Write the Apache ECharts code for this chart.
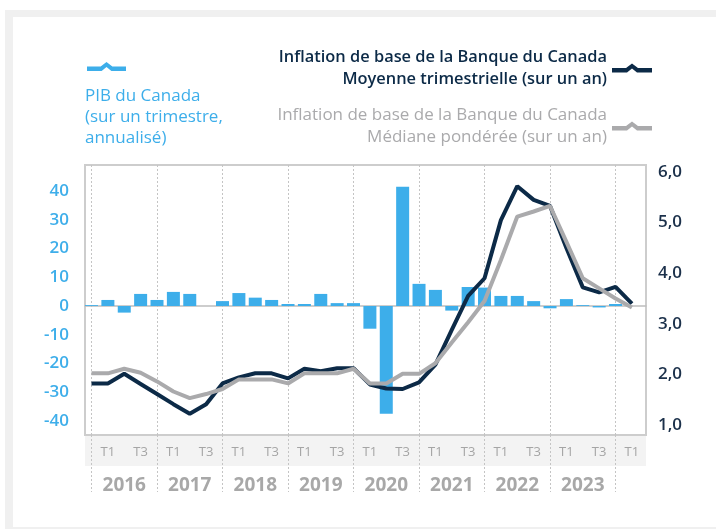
<!DOCTYPE html>
<html>
<head>
<meta charset="utf-8">
<script src="https://cdn.jsdelivr.net/npm/echarts@6/dist/echarts.min.js"></script>
<style>
  html, body { margin: 0; padding: 0; background: #fff; }
  /* cadre gris autour du graphique */
  #frame { position: absolute; left: 5px; top: 10px; width: 711px; height: 519px; background: #f0f0f0; }
  #inner { position: absolute; left: 13px; top: 17px; width: 703px; height: 510px; background: #fff; }
  #chart { position: absolute; left: 0; top: 0; width: 716px; height: 529px; }
</style>
</head>
<body>
<div id="frame"></div>
<div id="inner"></div>
<div id="chart"></div>
<script>
// trimestres : 2015T4 -> 2024T1
const quarters = [
  '2015T4',
  '2016T1', '2016T2', '2016T3', '2016T4',
  '2017T1', '2017T2', '2017T3', '2017T4',
  '2018T1', '2018T2', '2018T3', '2018T4',
  '2019T1', '2019T2', '2019T3', '2019T4',
  '2020T1', '2020T2', '2020T3', '2020T4',
  '2021T1', '2021T2', '2021T3', '2021T4',
  '2022T1', '2022T2', '2022T3', '2022T4',
  '2023T1', '2023T2', '2023T3', '2023T4',
  '2024T1'
]

// PIB du Canada (sur un trimestre, annualisé), axe de gauche
const gdp = [
  0.3,
  2.1, -2.3, 4.2, 2.1,
  4.9, 4.2, 0, 1.7,
  4.5, 2.9, 2.1, 0.7,
  0.7, 4.2, 1.0, 1.0,
  -7.9, -37.5, 41.5, 7.7,
  5.6, -1.6, 6.6, 6.4,
  3.5, 3.5, 1.7, -0.8,
  2.4, 0.3, -0.5, 0.7,
  null
]

// inflation de base - moyenne trimestrielle (axe de droite)
const coreMean = [
  1.82,
  1.82, 2.01, 1.81, 1.61,
  1.41, 1.22, 1.41, 1.82,
  1.94, 2.02, 2.02, 1.92,
  2.11, 2.06, 2.12, 2.12,
  1.80, 1.72, 1.71, 1.84,
  2.19, 2.88, 3.55, 3.90,
  5.05, 5.72, 5.45, 5.33,
  4.50, 3.72, 3.62, 3.73,
  3.40
]

// inflation de base - médiane pondérée (axe de droite)
const coreMedian = [
  2.02,
  2.02, 2.11, 2.03, 1.86,
  1.66, 1.53, 1.61, 1.71,
  1.90, 1.90, 1.90, 1.82,
  2.02, 2.02, 2.02, 2.11,
  1.82, 1.82, 2.01, 2.01,
  2.22, 2.63, 3.03, 3.45,
  4.26, 5.12, 5.22, 5.33,
  4.62, 3.90, 3.70, 3.50,
  3.32
]

// étiquettes des axes
const leftTicks = [-40, -30, -20, -10, 0, 10, 20, 30, 40]
const rightTicks = [1, 2, 3, 4, 5, 6]

const blue = '#3daeea'
const navy = '#0c2a47'
const grey = '#aaaaac'

// positions sur l'axe x (index du trimestre)
const yearEnds = []     // T4 -> lignes pointillées
const tLabels = []      // T1 et T3
const yearCenters = []  // T2 -> libellé de l'année
quarters.forEach((q, i) => {
  const t = q.slice(4)
  if (t === 'T4') yearEnds.push(i)
  if (t === 'T1' || t === 'T3') tLabels.push(i)
  if (t === 'T2') yearCenters.push(i)
})

const xMin = -0.397
const xMax = 33.86

// libellé d'un trimestre (sans planter hors des données)
function quarterPart(v, from, to) {
  const q = quarters[Math.round(v)]
  return q ? q.slice(from, to) : ''
}

const legendIcon = 'path://M0,4.5 L14,4.5 L20,0 L26,4.5 L40,4.5 L40,9 L25,9 L20,5 L15,9 L0,9 Z'

const chart = echarts.init(document.getElementById('chart'))

const option = {
  animation: false,
  textStyle: { fontFamily: 'Open Sans' },
  title: {
    text: 'PIB du Canada\n(sur un trimestre,\nannualisé)',
    left: 85,
    top: 86,
    padding: 0,
    textStyle: { color: blue, fontSize: 17, fontWeight: 'normal', lineHeight: 21 }
  },
  legend: [
    {
      data: ['PIB du Canada'],
      left: 87, top: 62, padding: 0,
      icon: legendIcon, itemWidth: 39, itemHeight: 9,
      formatter: () => '',
      selectedMode: false
    },
    {
      data: ['Moyenne trimestrielle'],
      right: 64, top: 46, padding: 0, align: 'right',
      icon: legendIcon, itemWidth: 40, itemHeight: 9,
      formatter: () => 'Inflation de base de la Banque du Canada\nMoyenne trimestrielle (sur un an)',
      textStyle: { color: navy, fontSize: 16.4, lineHeight: 22, fontWeight: 600 },
      selectedMode: false
    },
    {
      data: ['Médiane pondérée'],
      right: 64, top: 104, padding: 0, align: 'right',
      icon: legendIcon, itemWidth: 40, itemHeight: 9,
      formatter: () => 'Inflation de base de la Banque du Canada\nMédiane pondérée (sur un an)',
      textStyle: { color: grey, fontSize: 17, lineHeight: 22, fontWeight: 'normal' },
      selectedMode: false
    }
  ],
  grid: {
    left: 85, right: 70, top: 165, bottom: 94,
    show: true, borderColor: '#cdcdcd', borderWidth: 2, backgroundColor: '#fff'
  },
  // bande grise derrière T1 / T3
  graphic: {
    elements: [{
      type: 'rect', z: -10, silent: true,
      shape: { x: 85, y: 435, width: 561, height: 31 },
      style: { fill: '#f3f3f3' }
    }]
  },
  xAxis: [
    {
      type: 'value', min: xMin, max: xMax, position: 'bottom',
      axisLine: { show: false, onZero: false },
      axisTick: {
        show: true, customValues: yearEnds, length: 57,
        lineStyle: { color: '#c4c4c4', type: [2, 2], width: 1 }
      },
      splitLine: { show: true, lineStyle: { color: '#c4c4c4', type: [2, 2], width: 1 } },
      axisLabel: {
        customValues: tLabels, margin: 11,
        color: '#a5a5a5', fontSize: 13,
        formatter: v => quarterPart(v, 4)
      }
    },
    {
      // ligne du zéro (axe de gauche)
      type: 'value', min: xMin, max: xMax, position: 'bottom',
      axisLine: { show: true, onZero: true, onZeroAxisIndex: 0, lineStyle: { color: '#bdbdbd', width: 1.5 } },
      axisTick: { show: false }, axisLabel: { show: false }, splitLine: { show: false }
    },
    {
      // années
      type: 'value', min: xMin, max: xMax, position: 'bottom', offset: 33,
      axisLine: { show: false, onZero: false }, axisTick: { show: false }, splitLine: { show: false },
      axisLabel: {
        customValues: yearCenters, margin: 8,
        color: '#a8a8a8', fontSize: 19, fontWeight: 'bold',
        formatter: v => quarterPart(v, 0, 4)
      }
    }
  ],
  yAxis: [
    {
      type: 'value', min: -44.87, max: 49.04, position: 'left',
      axisLine: { show: false }, axisTick: { show: false }, splitLine: { show: false },
      axisLabel: { customValues: leftTicks, margin: 16, color: '#3eaeea', fontSize: 17, fontWeight: 600 }
    },
    {
      type: 'value', min: 0.80, max: 6.14, position: 'right',
      axisLine: { show: false }, axisTick: { show: false }, splitLine: { show: false },
      axisLabel: {
        customValues: rightTicks, margin: 12, color: '#1b304a', fontSize: 17, fontWeight: 600,
        formatter: v => v.toFixed(1).replace('.', ',')
      }
    }
  ],
  series: [
    {
      name: 'PIB du Canada', type: 'bar', xAxisIndex: 0, yAxisIndex: 0,
      barWidth: 13, itemStyle: { color: blue },
      data: gdp.map((v, i) => [i, v])
    },
    {
      name: 'Moyenne trimestrielle', type: 'line', xAxisIndex: 0, yAxisIndex: 1,
      symbol: 'none', lineStyle: { color: navy, width: 4 }, itemStyle: { color: navy },
      data: coreMean.map((v, i) => [i, v])
    },
    {
      name: 'Médiane pondérée', type: 'line', xAxisIndex: 0, yAxisIndex: 1,
      symbol: 'none', lineStyle: { color: grey, width: 4 }, itemStyle: { color: grey },
      data: coreMedian.map((v, i) => [i, v])
    }
  ]
}

chart.setOption(option)
</script>
</body>
</html>
